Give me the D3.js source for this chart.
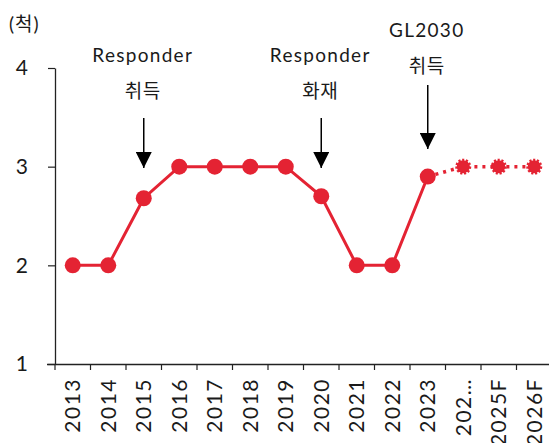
<!DOCTYPE html>
<html>
<head>
<meta charset="utf-8">
<script src="https://cdn.jsdelivr.net/npm/d3@7"></script>
<style>
  body { margin: 0; background: #fff; }
  svg text { font-family: Lato, "Noto Sans", "Noto Sans CJK KR", sans-serif; fill: #1a1a1a; }
</style>
</head>
<body>
<div id="chart"></div>
<script>
// data
const years = ["2013", "2014", "2015", "2016", "2017", "2018", "2019", "2020", "2021", "2022", "2023", "2024F", "2025F", "2026F"];
const tickLabels = ["2013", "2014", "2015", "2016", "2017", "2018", "2019", "2020", "2021", "2022", "2023", "202…", "2025F", "2026F"];
const ships = [2, 2, 2.68, 3, 3, 3, 3, 2.7, 2, 2, 2.9, 3, 3, 3];
const forecast = [false, false, false, false, false, false, false, false, false, false, false, true, true, true];
const yTicks = [1, 2, 3, 4];
const notes = [
  { year: "2015", lines: ["Responder", "취득"], top: 62, arrowFrom: 118, arrowTo: 168 },
  { year: "2020", lines: ["Responder", "화재"], top: 62, arrowFrom: 118, arrowTo: 168 },
  { year: "2023", lines: ["GL2030", "취득"], top: 37, arrowFrom: 85, arrowTo: 149 }
];

const red = "#e42333";
const W = 549, H = 443;

const svg = d3.select("#chart").append("svg")
  .attr("width", W)
  .attr("height", H);

const x = d3.scaleBand().domain(years).range([55, 552]);
const y = d3.scaleLinear().domain([1, 4]).range([364, 68]);

const rows = years.map((d, i) => ({ year: d, v: ships[i], f: forecast[i] }));

// axes
const xAxis = svg.append("g")
  .attr("transform", "translate(0,364)")
  .call(d3.axisBottom(x).tickSize(6).tickSizeOuter(0).tickFormat((d, i) => tickLabels[i]));
xAxis.select(".domain").attr("d", "M47,0.5H549").attr("stroke", "#222").attr("stroke-width", 1.3);
xAxis.selectAll(".tick").attr("transform", d => "translate(" + x(d) + ",0)");
xAxis.selectAll(".tick line").attr("stroke", "#222").attr("stroke-width", 1.2);
xAxis.selectAll(".tick text")
  .attr("transform", "translate(" + x.bandwidth() / 2 + ",0) rotate(-90)")
  .attr("x", -14).attr("y", 0).attr("dy", "0.35em")
  .style("text-anchor", "end")
  .style("font-size", "21px")
  .style("letter-spacing", "1.5px")
  .style("fill", "#1a1a1a");

const yAxis = svg.append("g")
  .attr("transform", "translate(55,0)")
  .call(d3.axisLeft(y).tickValues(yTicks).tickFormat(d3.format("d")).tickSize(7).tickSizeOuter(0).tickPadding(20));
yAxis.select(".domain").attr("stroke", "#222").attr("stroke-width", 1.3);
yAxis.selectAll(".tick line").attr("stroke", "#222").attr("stroke-width", 1.2);
yAxis.selectAll(".tick text").style("font-size", "21px").style("fill", "#1a1a1a");

svg.append("text").attr("x", 9).attr("y", 31).style("font-size", "19px").style("letter-spacing", "1px").text("(척)");

const cx = d => x(d.year) + x.bandwidth() / 2;
const line = d3.line().x(cx).y(d => y(d.v));

// solid part through 2023
const actual = rows.filter(d => !d.f);
const lastActual = actual[actual.length - 1];
svg.append("path")
  .datum(actual)
  .attr("fill", "none")
  .attr("stroke", red)
  .attr("stroke-width", 3)
  .attr("d", line);

// dotted forecast part
svg.append("path")
  .datum([lastActual].concat(rows.filter(d => d.f)))
  .attr("fill", "none")
  .attr("stroke", red)
  .attr("stroke-width", 3.5)
  .attr("stroke-dasharray", "3,5")
  .attr("d", line);

svg.selectAll("circle.pt")
  .data(actual)
  .enter().append("circle")
  .attr("class", "pt")
  .attr("cx", cx)
  .attr("cy", d => y(d.v))
  .attr("r", 8)
  .attr("fill", red);

svg.selectAll("circle.fc")
  .data(rows.filter(d => d.f))
  .enter().append("circle")
  .attr("class", "fc")
  .attr("cx", cx)
  .attr("cy", d => y(d.v))
  .attr("r", 6.5)
  .attr("fill", red)
  .attr("stroke", red)
  .attr("stroke-width", 3)
  .attr("stroke-dasharray", "2,1.6");

// annotations
const defs = svg.append("defs");
defs.append("marker")
  .attr("id", "head")
  .attr("viewBox", "0 0 16 16")
  .attr("refX", 16).attr("refY", 8)
  .attr("markerWidth", 16).attr("markerHeight", 16)
  .attr("markerUnits", "userSpaceOnUse")
  .attr("orient", "auto")
  .append("path").attr("d", "M0,0L16,8L0,16Z").attr("fill", "#000");

notes.forEach(n => {
  const nx = x(n.year) + x.bandwidth() / 2;
  n.lines.forEach((t, i) => {
    svg.append("text")
      .attr("x", nx - 1)
      .attr("y", n.top + i * 36)
      .style("text-anchor", "middle")
      .style("font-size", i === 0 ? "19px" : "19px")
      .style("letter-spacing", i === 0 ? "1.3px" : "0.5px")
      .text(t);
  });
  svg.append("line")
    .attr("x1", nx).attr("x2", nx)
    .attr("y1", n.arrowFrom).attr("y2", n.arrowTo)
    .attr("stroke", "#000")
    .attr("stroke-width", 1.5)
    .attr("marker-end", "url(#head)");
});
</script>
</body>
</html>
